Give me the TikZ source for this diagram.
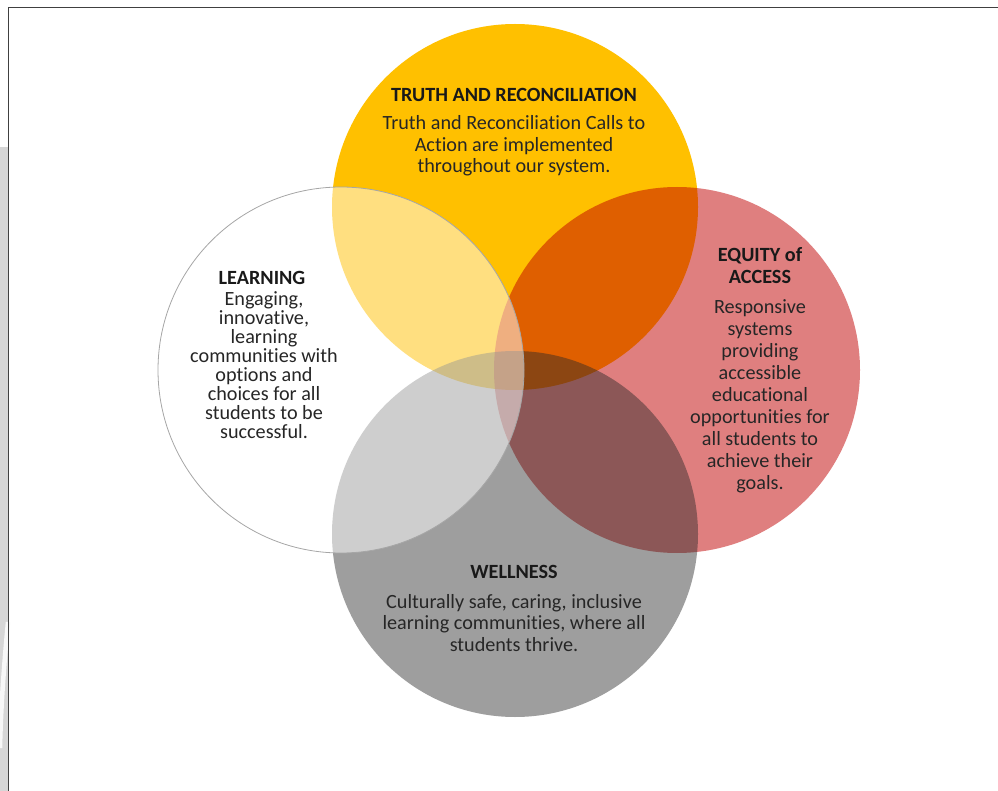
\documentclass[tikz,border=0pt]{standalone}
\usepackage{fontspec}
\setmainfont[Ligatures=NoCommon]{Carlito}
\definecolor{gold}{HTML}{FFC000}
\definecolor{darkred}{HTML}{C00000}
\definecolor{shade}{HTML}{282828}
\definecolor{ink}{HTML}{262626}
\definecolor{frame}{HTML}{404040}
\definecolor{strip}{HTML}{D6D6D6}
\begin{document}
\begin{tikzpicture}[x=1pt,y=-1pt,
  ring/.style={circle, minimum size=366pt, inner sep=0pt},
  ttl/.style={font=\fontsize{20.2}{22}\selectfont\bfseries, text=black!90, align=center, inner sep=0pt},
  body/.style={font=\fontsize{20.2}{#1}\selectfont, text=ink, align=center, inner sep=0pt}]
\useasboundingbox (0,0) rectangle (998,791);
% left strip and frame
\fill[strip] (0,147) rectangle (7.5,791);
\draw[white!80!strip, line width=4.5pt] (8,622) .. controls (4,665) and (1,705) .. (0,748);
\draw[frame, line width=1.5pt] (8.5,791) -- (8.5,7.5) -- (998,7.5);
% circles
\node[ring, fill=gold] (truth) at (515,207) {};
\node[ring, fill=darkred, fill opacity=0.5] (equity) at (677,370) {};
\node[ring, fill=shade, fill opacity=0.45] (wellness) at (515,534) {};
\node[ring, fill=white, fill opacity=0.5, draw=black!35, line width=0.8pt] (learning) at (341,370) {};
% texts
\node[ttl] (ttruth) at (514,95) {TRUTH AND RECONCILIATION};
\node[body=21.5] (btruth) at (514,146) {Truth and Reconciliation Calls to\\Action are implemented\\throughout our system.};
\node[ttl] (tlearn) at (262,278) {LEARNING};
\node[body=19] (blearn) at (264,365) {Engaging,\\innovative,\\learning\\communities with\\options and\\choices for all\\students to be\\successful.};
\node[ttl] (tequity) at (760,266) {EQUITY of\\ACCESS};
\node[body=22] (bequity) at (760,396) {Responsive\\systems\\providing\\accessible\\educational\\opportunities for\\all students to\\achieve their\\goals.};
\node[ttl] (twell) at (514,572) {WELLNESS};
\node[body=21.5] (bwell) at (514,623) {Culturally safe, caring, inclusive\\learning communities, where all\\students thrive.};
\end{tikzpicture}
\end{document}
